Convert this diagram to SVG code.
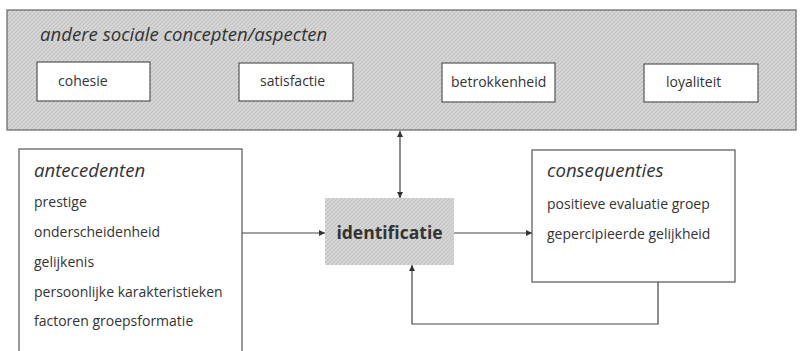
<svg xmlns="http://www.w3.org/2000/svg" width="800" height="351" viewBox="0 0 800 351">
<style>
.t{font-family:"Open Sans","Noto Sans",sans-serif;fill:#333;font-size:14px}
.it{font-style:italic;font-size:18.6px}
.box{fill:#fff;stroke:#555;stroke-width:1.2}
.ln{fill:none;stroke:#444;stroke-width:1.2}
</style>
<defs>
<pattern id="hatch" width="4" height="4" patternUnits="userSpaceOnUse">
<rect width="4" height="4" fill="#d8d8d8"/>
<path d="M0,4 L4,0 M-1,1 L1,-1 M3,5 L5,3" stroke="#b8b8b8" stroke-width="0.8"/>
<path d="M0,0 L4,4" stroke="#c6c6c6" stroke-width="0.6"/>
</pattern>
<marker id="ah" viewBox="0 0 10 10" refX="10" refY="5" markerWidth="8" markerHeight="6" markerUnits="userSpaceOnUse" orient="auto-start-reverse">
<path d="M0,0 L10,5 L0,10 z" fill="#333"/>
</marker>
</defs>
<g id="top-group">
<rect x="7" y="10" width="789" height="120" fill="url(#hatch)" stroke="#666" stroke-width="1.2"/>
<text class="t it" x="40" y="41">andere sociale concepten/aspecten</text>
</g>
<g id="cohesie"><rect class="box" x="37" y="62" width="113" height="39"/><text class="t" x="58" y="86">cohesie</text></g>
<g id="satisfactie"><rect class="box" x="239" y="63" width="114" height="38"/><text class="t" x="260" y="86">satisfactie</text></g>
<g id="betrokkenheid"><rect class="box" x="442" y="63" width="113" height="39"/><text class="t" x="451" y="87">betrokkenheid</text></g>
<g id="loyaliteit"><rect class="box" x="644" y="64" width="114" height="38"/><text class="t" x="666" y="87">loyaliteit</text></g>
<g id="antecedenten">
<rect class="box" x="19" y="149" width="223" height="210"/>
<text class="t it" x="34" y="177">antecedenten</text>
<text class="t" x="34" y="207">prestige</text>
<text class="t" x="34" y="237">onderscheidenheid</text>
<text class="t" x="34" y="267">gelijkenis</text>
<text class="t" x="34" y="297">persoonlijke karakteristieken</text>
<text class="t" x="34" y="326">factoren groepsformatie</text>
</g>
<g id="identificatie">
<rect x="325" y="198" width="129" height="67" fill="url(#hatch)"/>
<text class="t" x="389.5" y="239" text-anchor="middle" style="font-weight:bold;font-size:17.5px">identificatie</text>
</g>
<g id="consequenties">
<rect class="box" x="532" y="150" width="203" height="132"/>
<text class="t it" x="547" y="177">consequenties</text>
<text class="t" x="547" y="209">positieve evaluatie groep</text>
<text class="t" x="547" y="239">gepercipieerde gelijkheid</text>
</g>
<g id="connectors">
<line class="ln" x1="400" y1="131" x2="400" y2="198" marker-start="url(#ah)" marker-end="url(#ah)"/>
<line class="ln" x1="242" y1="233" x2="325" y2="233" marker-end="url(#ah)"/>
<line class="ln" x1="454" y1="233" x2="532" y2="233" marker-end="url(#ah)"/>
<polyline class="ln" points="658,282 658,324 412,324 412,265" marker-end="url(#ah)"/>
</g>
</svg>
